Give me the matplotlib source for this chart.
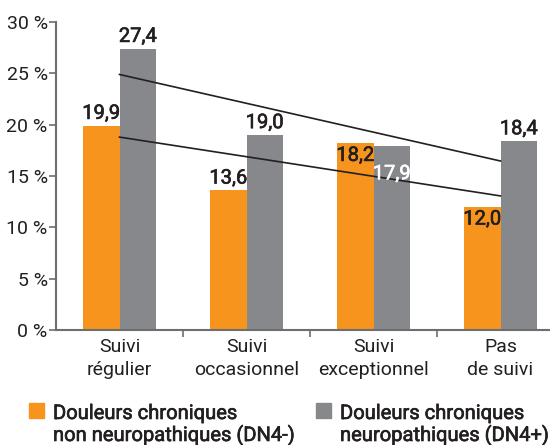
import numpy as np
import matplotlib
matplotlib.use("Agg")
from matplotlib import pyplot as plt
from matplotlib.patches import Rectangle
import matplotlib.patheffects as pe

plt.rcParams['font.family'] = ['Roboto', 'DejaVu Sans']

# follow-up categories and percentages for each pain group
categories = ['Suivi\nrégulier', 'Suivi\noccasionnel', 'Suivi\nexceptionnel', 'Pas\nde suivi']
dn4_neg = [19.9, 13.6, 18.2, 12.0]
dn4_pos = [27.4, 19.0, 17.9, 18.4]
labels_neg = ['19,9', '13,6', '18,2', '12,0']
labels_pos = ['27,4', '19,0', '17,9', '18,4']
legend_labels = [('Douleurs chroniques', 'non neuropathiques (DN4-)'),
                 ('Douleurs chroniques', 'neuropathiques (DN4+)')]

orange = '#F7941D'
grey = '#87888C'
ink = '#231F20'
axis_col = '#6D6E71'

W, H = 550, 445
fig = plt.figure(figsize=(W/100, H/100), dpi=100)
ax = fig.add_axes([56/W, 1-330/H, 508/W, 308/H])

# a touch of stroke to get a medium weight out of the regular face
def heavy(color):
    return [pe.withStroke(linewidth=0.45, foreground=color)]

x = np.arange(len(categories))
w = 0.287
b1 = ax.bar(x - w/2, dn4_neg, w, color=orange, edgecolor='none')
b2 = ax.bar(x + w/2, dn4_pos, w, color=grey, edgecolor='none')

# linear trend over the four groups
for vals in (dn4_neg, dn4_pos):
    k, c = np.polyfit(x, vals, 1)
    ax.plot([x[0], x[-1]], [c, c + k*x[-1]], color=ink, lw=1.2, zorder=3)

# value labels: above the bar, or inside it near the top where they would collide
def put(bar, txt, where, color=ink):
    h = bar.get_height()
    cx = bar.get_x() + bar.get_width()/2
    if where == 'above':
        off, va = 2, 'bottom'
    else:
        off, va = where, 'top'
    ax.annotate(txt, (cx, h), xytext=(0, off), textcoords='offset points',
                ha='center', va=va, fontsize=14.5, color=color, zorder=4,
                path_effects=heavy(color))

put(b1[0], labels_neg[0], 'above')
put(b1[1], labels_neg[1], 'above')
put(b1[2], labels_neg[2], -2)
put(b1[3], labels_neg[3], -2)
put(b2[0], labels_pos[0], 'above')
put(b2[1], labels_pos[1], 'above')
put(b2[2], labels_pos[2], -13, color='white')
put(b2[3], labels_pos[3], 'above')

ax.set_xlim(-0.5, 3.5)
ax.set_ylim(0, 30)
ax.set_yticks(range(0, 31, 5))
ax.set_yticklabels([f'{v} %' for v in range(0, 31, 5)], fontsize=14, color=ink)
ax.set_xticks(x)
ax.set_xticklabels(categories, fontsize=14, color=ink, linespacing=1.35)
ax.set_xticks([0.5, 1.5, 2.5], minor=True)
ax.tick_params(axis='x', which='major', length=0, pad=6)
ax.tick_params(axis='x', which='minor', length=5, width=1.2, color=axis_col)
ax.tick_params(axis='y', length=5, width=1.2, color=axis_col, pad=1)

for s in ('top', 'right'):
    ax.spines[s].set_visible(False)
for s in ('left', 'bottom'):
    ax.spines[s].set_color(axis_col)
    ax.spines[s].set_linewidth(1.5)

# legend: colour square beside the first line of each two-line label
for (px, col), (l1, l2) in zip([(29, orange), (316, grey)], legend_labels):
    fig.patches.append(Rectangle((px/W, 1-418/H), 15/W, 15/H, transform=fig.transFigure,
                                 color=col, figure=fig))
    fig.text((px+24)/W, 1-419/H, l1, fontsize=14.5, color=ink, va='baseline',
             path_effects=heavy(ink))
    fig.text((px+24)/W, 1-441/H, l2, fontsize=14.5, color=ink, va='baseline',
             path_effects=heavy(ink))

fig.savefig('out.png', dpi=100)
